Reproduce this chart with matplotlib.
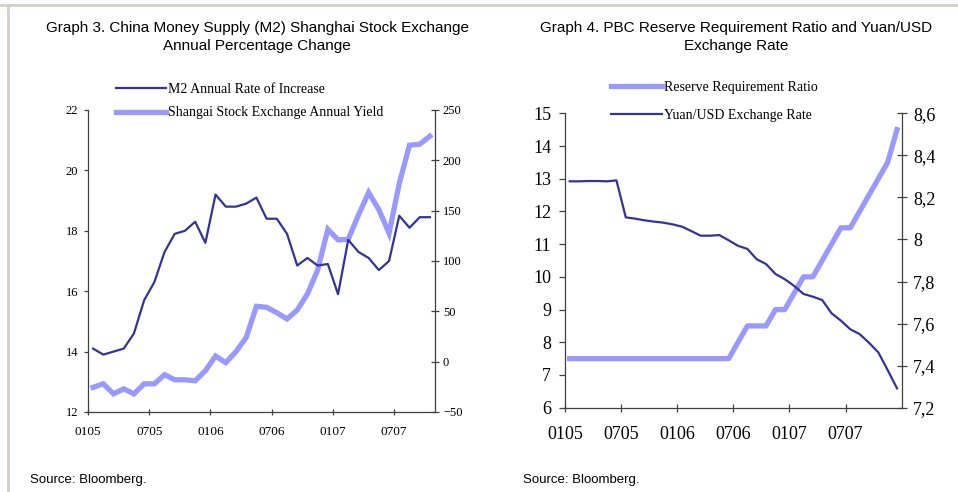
import matplotlib
matplotlib.use("Agg")
import matplotlib.pyplot as plt
from matplotlib.lines import Line2D
import numpy as np

# ---- Graph 3 data (monthly, Jan 2005 .. Oct 2007) ----
m2_rate = [14.1, 13.9, 14.0, 14.1, 14.6, 15.7, 16.3, 17.3, 17.9, 18.0,
           18.3, 17.6, 19.2, 18.8, 18.8, 18.9, 19.1, 18.4, 18.4, 17.9,
           16.85, 17.1, 16.85, 16.9, 15.9, 17.7, 17.3, 17.1, 16.7, 17.0,
           18.5, 18.1, 18.45, 18.45]
sse_yield = [-25.5, -22, -32, -27, -32, -22, -22, -13, -18, -18,
             -19, -9, 5.6, -1, 10, 24, 55, 54, 48.6, 42.4,
             51.3, 67.2, 91, 131.5, 121, 121.5, 145.7, 168, 151, 127.5,
             177, 215, 216, 224]

# ---- Graph 4 data (monthly, Jan 2005 .. Dec 2007) ----
reserve_ratio = [7.5, 7.5, 7.5, 7.5, 7.5, 7.5, 7.5, 7.5, 7.5, 7.5,
                 7.5, 7.5, 7.5, 7.5, 7.5, 7.5, 7.5, 7.5, 8.0, 8.5,
                 8.5, 8.5, 9.0, 9.0, 9.5, 10.0, 10.0, 10.5, 11.0, 11.5,
                 11.5, 12.0, 12.5, 13.0, 13.5, 14.5]
yuan_usd = [8.2765, 8.2765, 8.278, 8.278, 8.2765, 8.281, 8.105, 8.099, 8.091, 8.085,
            8.080, 8.072, 8.061, 8.040, 8.018, 8.018, 8.021, 7.996, 7.970, 7.955,
            7.906, 7.883, 7.836, 7.811, 7.779, 7.741, 7.728, 7.712, 7.649, 7.614,
            7.573, 7.550, 7.509, 7.463, 7.379, 7.292]

tick_labels = ["0105", "0705", "0106", "0706", "0107", "0707"]
yuan_ticks = [7.2, 7.4, 7.6, 7.8, 8.0, 8.2, 8.4, 8.6]
yuan_tick_labels = ["7,2", "7,4", "7,6", "7,8", "8", "8,2", "8,4", "8,6"]

DARK = "#333399"
LIGHT = "#9999FF"
SPINE = "#404040"
SANS = ["Liberation Sans Narrow", "Liberation Sans", "DejaVu Sans"]
SERIF = ["Liberation Serif", "DejaVu Serif"]

plt.rcParams["font.family"] = SERIF

fig = plt.figure(figsize=(9.58, 4.92), dpi=100)

# page frame (grey border top and left)
fig.add_artist(Line2D([0, 1], [1 - 5 / 492, 1 - 5 / 492], transform=fig.transFigure,
                      color="#d4d0c8", lw=2))
fig.add_artist(Line2D([8 / 958, 8 / 958], [0, 1 - 5 / 492], transform=fig.transFigure,
                      color="#d4d0c8", lw=2))


def style_axes(ax, ax2, fsy, fsx, tl, padl, padr, padb):
    for a in (ax, ax2):
        a.spines["top"].set_visible(False)
        for s in a.spines.values():
            s.set_color(SPINE)
            s.set_linewidth(0.9)
    ax.spines["right"].set_visible(False)
    ax2.spines["left"].set_visible(False)
    ax2.spines["bottom"].set_visible(False)
    ax.tick_params(axis="y", direction="out", length=tl, width=0.9, color=SPINE,
                   labelsize=fsy, pad=padl)
    ax.tick_params(axis="x", direction="inout", length=tl * 1.6, width=0.9, color=SPINE,
                   labelsize=fsx, pad=padb)
    ax2.tick_params(axis="y", direction="inout", length=tl * 1.8, width=0.9, color=SPINE,
                    labelsize=fsy, pad=padr)


# ---------------- Graph 3 ----------------
n1 = len(m2_rate)
x1 = np.arange(n1) + 0.5
ax1 = fig.add_axes([88 / 958, 1 - 412 / 492, (435 - 88) / 958, (412 - 110) / 492])
ax1b = ax1.twinx()
ax1b.plot(x1, sse_yield, color=LIGHT, lw=3.8, solid_joinstyle="miter", zorder=2)
ax1.plot(x1, m2_rate, color=DARK, lw=1.6, zorder=3)
ax1.set_zorder(ax1b.get_zorder() + 1)
ax1.patch.set_visible(False)
ax1.set_xlim(0, n1)
ax1.set_ylim(12, 22)
ax1.set_yticks([12, 14, 16, 18, 20, 22])
ax1b.set_ylim(-50, 250)
ax1b.set_yticks([-50, 0, 50, 100, 150, 200, 250])
ax1.set_xticks(np.arange(0, 31, 6))
ax1.set_xticklabels(tick_labels)
style_axes(ax1, ax1b, 9, 9.5, 3, 4, 3, 7.5)

h1 = [Line2D([], [], color=DARK, lw=1.6), Line2D([], [], color=LIGHT, lw=3.8)]
fig.legend(h1, ["M2 Annual Rate of Increase", "Shangai Stock Exchange Annual Yield"],
           loc="upper left", bbox_to_anchor=(116 / 958, 1 - 83 / 492), frameon=False,
           fontsize=10, handlelength=3.6, handletextpad=0.12, labelspacing=0.75,
           borderpad=0, borderaxespad=0)

fig.text(257 / 958, 1 - 37 / 492,
         "Graph 3. China Money Supply (M2) Shanghai Stock Exchange\nAnnual Percentage Change",
         ha="center", va="center", fontsize=11, family=SANS, linespacing=1.3)
fig.text(30 / 958, 1 - 480 / 492, "Source: Bloomberg.", ha="left", va="center",
         fontsize=9.5, family=SANS)

# ---------------- Graph 4 ----------------
n2 = len(reserve_ratio)
x2 = np.arange(n2) + 0.5
ax2 = fig.add_axes([565 / 958, 1 - 407.7 / 492, (901.7 - 565) / 958, (407.7 - 113.3) / 492])
ax2b = ax2.twinx()
ax2.plot(x2, reserve_ratio, color=LIGHT, lw=3.8, zorder=2)
ax2b.plot(x2, yuan_usd, color=DARK, lw=1.6, zorder=3)
ax2.set_xlim(0, n2)
ax2.set_ylim(6, 15)
ax2.set_yticks(np.arange(6, 16, 1))
ax2b.set_ylim(7.2, 8.6)
ax2b.set_yticks(yuan_ticks)
ax2b.set_yticklabels(yuan_tick_labels)
ax2.set_xticks(np.arange(0, 31, 6))
ax2.set_xticklabels(tick_labels)
style_axes(ax2, ax2b, 13, 13, 4, 6, 4.5, 10)

h2 = [Line2D([], [], color=LIGHT, lw=3.8), Line2D([], [], color=DARK, lw=1.6)]
fig.legend(h2, ["Reserve Requirement Ratio", "Yuan/USD Exchange Rate"],
           loc="upper left", bbox_to_anchor=(611 / 958, 1 - 81 / 492), frameon=False,
           fontsize=10, handlelength=3.7, handletextpad=0.1, labelspacing=1.05,
           borderpad=0, borderaxespad=0)

fig.text(736 / 958, 1 - 37 / 492,
         "Graph 4. PBC Reserve Requirement Ratio and Yuan/USD\nExchange Rate",
         ha="center", va="center", fontsize=11, family=SANS, linespacing=1.3)
fig.text(523 / 958, 1 - 480 / 492, "Source: Bloomberg.", ha="left", va="center",
         fontsize=9.5, family=SANS)

fig.savefig("out.png", dpi=100)
